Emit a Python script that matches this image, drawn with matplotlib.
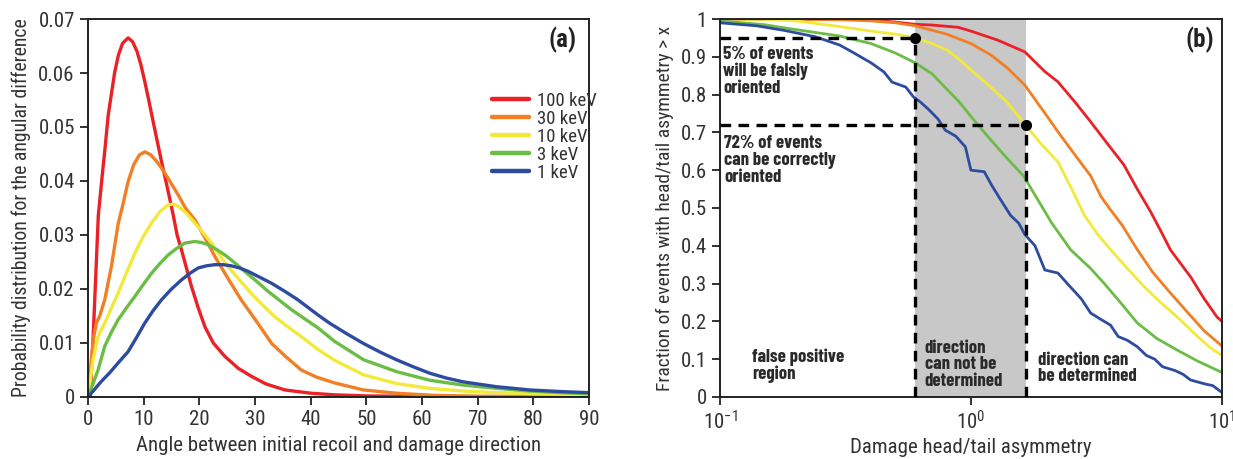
import matplotlib
matplotlib.use("Agg")
import matplotlib.pyplot as plt
from matplotlib.ticker import FixedLocator, NullLocator, FuncFormatter

# ---- panel (a): angular distributions ----
red_a_x = [0, 0.4, 1.0, 1.85, 2.5, 3.05, 3.6, 4.25, 4.8, 5.45, 6.2, 7.2, 8.0, 8.8, 9.5, 10.2,
           11.0, 12.0, 13.2, 14.2, 15.3, 16.0, 16.8, 17.7, 18.6, 19.8, 21.0, 22.5, 24.6, 27.0,
           29.4, 32, 35.4, 40, 44.3, 50, 60, 75, 90]
red_a_y = [0, 0.0, 0.013, 0.0337, 0.0405, 0.046, 0.052, 0.0565, 0.0602, 0.0633, 0.0655, 0.0665,
           0.0658, 0.064, 0.0615, 0.0584, 0.0545, 0.0495, 0.0436, 0.039, 0.0337, 0.030, 0.0272,
           0.0238, 0.0204, 0.0165, 0.013, 0.0100, 0.0075, 0.0053, 0.0038, 0.0024, 0.0013,
           0.0007, 0.0004, 0.0002, 0.0001, 0.00004, 0.00002]

orange_a_x = [0, 0.6, 1.0, 1.5, 2.1, 3.0, 4.2, 5.4, 6.3, 7.2, 8.2, 9.2, 10.2, 11.2, 12.2, 13.2,
              14.5, 15.5, 16.2, 17.5, 19.2, 21.0, 22.8, 25.0, 27.5, 30.0, 33.0, 35.5, 38.3,
              41.0, 44.3, 49.5, 55.4, 62, 70, 90]
orange_a_y = [0, 0.0069, 0.011, 0.0137, 0.015, 0.018, 0.0242, 0.032, 0.0358, 0.0399, 0.043,
              0.0448, 0.0454, 0.0449, 0.0438, 0.0424, 0.0403, 0.0386, 0.0374, 0.035, 0.0328,
              0.0295, 0.026, 0.0222, 0.018, 0.0144, 0.0099, 0.0075, 0.005, 0.0037, 0.0026,
              0.0013, 0.0007, 0.0003, 0.00015, 0.00005]

yellow_a_x = [0, 0.9, 1.8, 3, 4.2, 5.4, 6.9, 8.4, 9.9, 11.4, 12.9, 14.4, 15.3, 16.2, 17.7, 19.2,
              20.7, 22.2, 23.6, 25.1, 27.2, 29.3, 31.4, 33.5, 35.9, 38.3, 41.3, 44.3, 49.5,
              55.4, 61.4, 67.4, 73.4, 80, 90]
yellow_a_y = [0, 0.0069, 0.0112, 0.0137, 0.0165, 0.0192, 0.023, 0.0266, 0.0297, 0.0322,
              0.0343, 0.0356, 0.0357, 0.0353, 0.034, 0.0322, 0.0304, 0.0285, 0.0263, 0.0242,
              0.0217, 0.0192, 0.017, 0.0149, 0.013, 0.0112, 0.0088, 0.0068, 0.0041, 0.0025,
              0.0016, 0.0011, 0.0008, 0.0006, 0.0004]

green_a_x = [0, 1.8, 3.0, 4.2, 5.4, 6.9, 8.4, 9.9, 11.4, 12.9, 14.4, 15.9, 17.4, 19.2, 20.4,
             21.6, 23.1, 24.6, 26.3, 28.1, 30.2, 32.3, 34.4, 36.5, 38.9, 41.3, 44.3, 49.5,
             55.4, 61.4, 67.4, 73.4, 79.4, 85, 90]
green_a_y = [0, 0.005, 0.0094, 0.012, 0.0143, 0.0165, 0.0186, 0.0208, 0.0229, 0.0247, 0.0263,
             0.0275, 0.0285, 0.0288, 0.0286, 0.0282, 0.0273, 0.0263, 0.0249, 0.0233, 0.0215,
             0.0196, 0.0179, 0.0162, 0.0145, 0.0128, 0.0103, 0.0069, 0.0047, 0.0031, 0.0022,
             0.0016, 0.0011, 0.0008, 0.0006]

blue_a_x = [0, 1, 2.4, 3.9, 5.4, 7.2, 8.7, 10.2, 11.7, 13.2, 15.0, 16.8, 18.3, 19.8, 21.3, 22.8,
            24.3, 25.7, 27.2, 28.7, 30.8, 32.9, 35.3, 37.7, 39.5, 41.3, 43.5, 46.5, 49.5, 52.5,
            55.4, 58.4, 61.4, 64.4, 67.4, 73.4, 79.4, 85, 90]
blue_a_y = [0, 0.0012, 0.0029, 0.0045, 0.0063, 0.0084, 0.011, 0.0137, 0.016, 0.018, 0.02,
            0.0217, 0.0229, 0.0239, 0.0243, 0.0245, 0.0245, 0.0243, 0.0239, 0.0233, 0.0222,
            0.0211, 0.0196, 0.018, 0.0166, 0.0152, 0.0136, 0.0117, 0.0099, 0.0083, 0.0069,
            0.0056, 0.0044, 0.0035, 0.0028, 0.0019, 0.0013, 0.001, 0.0008]

# ---- panel (b): cumulative fraction vs head/tail asymmetry ----
red_b_x = [0.1, 0.3, 0.4, 0.5, 0.6, 0.7, 0.89, 1.0, 1.28, 1.64, 1.97, 2.22, 2.6, 3.0, 3.5,
           4.07, 4.6, 5.2, 5.7, 6.24, 7.5, 8.5, 9.55, 10]
red_b_y = [1.0, 1.0, 0.997, 0.992, 0.986, 0.984, 0.978, 0.968, 0.944, 0.913, 0.861, 0.834,
           0.78, 0.728, 0.67, 0.614, 0.55, 0.49, 0.44, 0.389, 0.318, 0.26, 0.212, 0.2]

orange_b_x = [0.1, 0.3, 0.4, 0.5, 0.6, 0.8, 1.0, 1.2, 1.4, 1.64, 2.0, 2.22, 2.6, 3.0, 3.3,
              3.6, 4.0, 4.6, 5.3, 6.24, 7.5, 8.5, 10]
orange_b_y = [1.0, 0.998, 0.995, 0.99, 0.982, 0.96, 0.935, 0.905, 0.87, 0.825, 0.745, 0.702,
              0.64, 0.585, 0.53, 0.495, 0.455, 0.39, 0.33, 0.275, 0.215, 0.175, 0.135]

yellow_b_x = [0.1, 0.15, 0.2, 0.3, 0.4, 0.5, 0.6, 0.7, 0.8, 0.9, 1.0, 1.2, 1.4, 1.65, 1.9,
              2.22, 2.5, 2.83, 3.2, 3.61, 4.2, 4.9, 5.7, 6.63, 8.0, 9.0, 10]
yellow_b_y = [1.0, 0.999, 0.995, 0.98, 0.968, 0.96, 0.95, 0.935, 0.918, 0.893, 0.865, 0.82,
              0.778, 0.72, 0.67, 0.622, 0.555, 0.481, 0.43, 0.389, 0.34, 0.292, 0.25, 0.212,
              0.16, 0.13, 0.11]

green_b_x = [0.1, 0.15, 0.2, 0.3, 0.4, 0.5, 0.6, 0.7, 0.8, 0.9, 1.0, 1.2, 1.4, 1.62, 1.85,
             2.1, 2.5, 3.0, 3.4, 4.0, 4.6, 5.5, 6.6, 8.0, 10]
green_b_y = [0.995, 0.985, 0.972, 0.955, 0.935, 0.91, 0.884, 0.855, 0.815, 0.78, 0.742, 0.68,
             0.63, 0.585, 0.521, 0.46, 0.389, 0.34, 0.30, 0.245, 0.196, 0.155, 0.125, 0.095,
             0.065]

blue_b_x = [0.1, 0.14, 0.18, 0.24, 0.3, 0.336, 0.4, 0.45, 0.485, 0.55, 0.59, 0.63, 0.68, 0.74,
            0.79, 0.87, 0.95, 1.0, 1.13, 1.21, 1.33, 1.44, 1.55, 1.64, 1.8, 1.97, 2.22, 2.5,
            2.75, 3.0, 3.3, 3.6, 3.86, 4.2, 4.6, 5.0, 5.4, 5.8, 6.5, 7.0, 7.5, 8.5, 9.2, 10]
blue_b_y = [0.99, 0.982, 0.97, 0.953, 0.931, 0.913, 0.884, 0.86, 0.833, 0.82, 0.794, 0.78,
            0.76, 0.735, 0.706, 0.69, 0.662, 0.60, 0.596, 0.56, 0.516, 0.48, 0.46, 0.43, 0.40,
            0.336, 0.328, 0.29, 0.26, 0.222, 0.205, 0.19, 0.16, 0.15, 0.133, 0.11, 0.10, 0.08,
            0.07, 0.06, 0.045, 0.035, 0.03, 0.012]

labels = ["100 keV", "30 keV", "10 keV", "3 keV", "1 keV"]
colors = ["#ea2127", "#f27f23", "#f1ea3a", "#6bbd45", "#2d4c9f"]

# thresholds: 5% false orientation and 72% correct orientation on the 10 keV curve
thr_x = [0.6, 1.65]
thr_y = [0.95, 0.72]

AXFONT = ["Roboto Condensed", "PT Sans Narrow", "DejaVu Sans"]
NOTEFONT = ["Barlow Condensed", "Roboto Condensed", "DejaVu Sans"]
plt.rcParams["font.family"] = AXFONT

fig = plt.figure(figsize=(12.33, 4.59), dpi=100)
ax1 = fig.add_axes([0.0714, 0.1351, 0.4063, 0.8235])
ax2 = fig.add_axes([0.5839, 0.1351, 0.4071, 0.8235])

series_a = [(red_a_x, red_a_y), (orange_a_x, orange_a_y), (yellow_a_x, yellow_a_y),
            (green_a_x, green_a_y), (blue_a_x, blue_a_y)]
for (xs, ys), c, lab in zip(series_a, colors, labels):
    ax1.plot(xs, ys, color=c, lw=2.4, label=lab, solid_capstyle="round",
             solid_joinstyle="round")

ax1.set_xlim(0, 90)
ax1.set_ylim(0, 0.07)
ax1.xaxis.set_major_locator(FixedLocator(range(0, 91, 10)))
ax1.yaxis.set_major_locator(FixedLocator([0, 0.01, 0.02, 0.03, 0.04, 0.05, 0.06, 0.07]))
ax1.yaxis.set_major_formatter(FuncFormatter(lambda v, p: "0" if v == 0 else "%.2f" % v))
ax1.set_xlabel("Angle between initial recoil and damage direction", fontsize=15,
               color="#333333", labelpad=5)
ax1.set_ylabel("Probability distribution for the angular difference", fontsize=14.2,
               color="#333333", labelpad=5)
leg = ax1.legend(loc="upper left", bbox_to_anchor=(0.772, 0.852), frameon=False,
                 handlelength=2.0, handletextpad=0.4, labelspacing=0.0,
                 prop=dict(size=13.5))
for ln in leg.get_lines():
    ln.set_linewidth(3.2)
for t in leg.get_texts():
    t.set_color("#333333")
ax1.text(0.975, 0.945, "(a)", transform=ax1.transAxes, ha="right", va="center",
         fontsize=18, fontweight="bold", color="#222222")

series_b = [(red_b_x, red_b_y), (orange_b_x, orange_b_y), (yellow_b_x, yellow_b_y),
            (green_b_x, green_b_y), (blue_b_x, blue_b_y)]
ax2.axvspan(thr_x[0], thr_x[1], color="#c8c8c8", lw=0, zorder=0)
for (xs, ys), c in zip(series_b, colors):
    ax2.plot(xs, ys, color=c, lw=2.0, zorder=2, solid_joinstyle="round")

dash = dict(color="black", lw=2.4, linestyle=(0, (3.2, 2.2)), zorder=3)
for xv, yv in zip(thr_x, thr_y):
    ax2.plot([0.1, xv], [yv, yv], **dash)
    ax2.plot([xv, xv], [0, yv], **dash)
ax2.plot(thr_x, thr_y, "o", color="black", ms=7, zorder=4, linestyle="none")

ax2.set_xscale("log")
ax2.set_xlim(0.1, 10)
ax2.set_ylim(0, 1)
ax2.xaxis.set_minor_locator(NullLocator())
ax2.yaxis.set_major_locator(FixedLocator([i / 10 for i in range(11)]))
ax2.yaxis.set_major_formatter(FuncFormatter(lambda v, p: "%g" % round(v, 1)))
ax2.set_xlabel("Damage head/tail asymmetry", fontsize=15, color="#333333", labelpad=3)
ax2.set_ylabel("Fraction of events with head/tail asymmetry > x", fontsize=14,
               color="#333333", labelpad=5)
ax2.text(0.985, 0.945, "(b)", transform=ax2.transAxes, ha="right", va="center",
         fontsize=18, fontweight="bold", color="#222222")

note = dict(fontsize=13.5, fontweight="bold", color="#2a2a2a", va="top", ha="left",
            linespacing=0.98, zorder=5, family=NOTEFONT)
ax2.text(0.103, 0.928, "5% of events\nwill be falsly\noriented", **note)
ax2.text(0.104, 0.693, "72% of events\ncan be correctly\noriented", **note)
ax2.text(0.134, 0.128, "false positive\nregion", **note)
ax2.text(0.655, 0.152, "direction\ncan not be\ndetermined", **note)
ax2.text(1.85, 0.12, "direction can\nbe determined", **note)

for ax in (ax1, ax2):
    for s in ax.spines.values():
        s.set_linewidth(1.4)
        s.set_color("#222222")
    ax.tick_params(axis="both", which="major", direction="out", length=6, width=1.3,
                   labelsize=15, colors="#222222", labelcolor="#333333")
    ax.tick_params(top=False, right=False)

fig.savefig("out.png", dpi=100)
